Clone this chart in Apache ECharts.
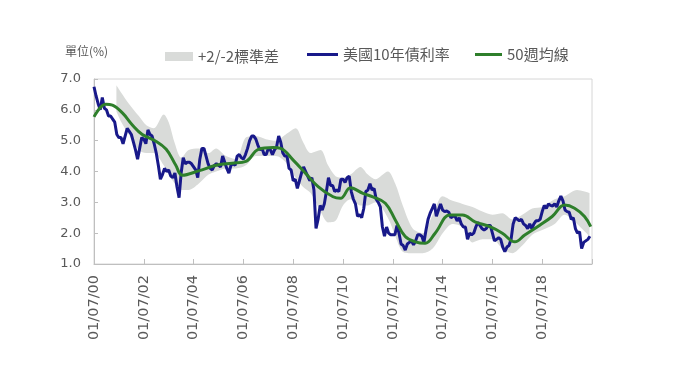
<!DOCTYPE html>
<html>
<head>
<meta charset="utf-8">
<script src="https://cdn.jsdelivr.net/npm/echarts@6/dist/echarts.min.js"></script>
<style>
html,body{margin:0;padding:0;background:#fff;}
#chart{width:680px;height:383px;}
</style>
</head>
<body>
<div id="chart"></div>
<script>
// ---- data ----
const unitLabel = '單位(%)';
const seriesNames = ['+2/-2標準差', '美國10年債利率', '50週均線'];
const xTickLabels = ['01/07/00','01/07/02','01/07/04','01/07/06','01/07/08','01/07/10','01/07/12','01/07/14','01/07/16','01/07/18'];
const yieldStartYear = 2000; // monthly values from Jan 2000
const yieldValues = [
  6.75,6.45,6.20,6.00,6.40,6.05,6.00,5.80,5.80,5.70,5.60,5.20,
  5.10,5.10,4.90,5.15,5.40,5.30,5.20,4.95,4.70,4.40,4.75,5.10,
  5.05,4.90,5.35,5.20,5.15,4.90,4.60,4.20,3.75,3.90,4.10,4.00,
  4.05,3.85,3.80,3.95,3.50,3.15,3.95,4.45,4.25,4.30,4.30,4.25,
  4.15,4.05,3.80,4.40,4.75,4.75,4.50,4.25,4.10,4.05,4.20,4.25,
  4.20,4.15,4.50,4.30,4.10,3.95,4.20,4.25,4.20,4.50,4.55,4.45,
  4.40,4.55,4.75,5.00,5.15,5.15,5.05,4.85,4.70,4.75,4.55,4.55,
  4.75,4.70,4.55,4.70,4.80,5.15,4.95,4.60,4.50,4.50,4.10,4.05,
  3.70,3.75,3.45,3.70,3.95,4.15,4.00,3.85,3.70,3.80,3.40,2.15,
  2.45,2.90,2.75,2.95,3.35,3.80,3.55,3.55,3.35,3.40,3.35,3.75,
  3.75,3.65,3.80,3.85,3.35,3.10,2.95,2.55,2.60,2.50,2.80,3.35,
  3.40,3.60,3.40,3.45,3.10,3.00,2.85,2.20,1.90,2.20,2.00,1.95,
  1.95,1.95,2.25,2.00,1.65,1.60,1.45,1.65,1.70,1.75,1.62,1.75,
  1.95,1.95,1.90,1.70,2.10,2.45,2.65,2.80,2.95,2.55,2.75,2.95,
  2.75,2.70,2.72,2.68,2.50,2.55,2.55,2.40,2.50,2.30,2.20,2.20,
  1.80,2.00,1.95,2.00,2.20,2.35,2.25,2.15,2.10,2.15,2.25,2.25,
  2.00,1.75,1.80,1.85,1.80,1.55,1.40,1.55,1.60,1.80,2.30,2.50,
  2.45,2.40,2.45,2.30,2.25,2.15,2.30,2.15,2.30,2.40,2.40,2.45,
  2.70,2.90,2.80,2.95,2.90,2.88,2.95,2.85,3.05,3.20,3.05,2.75,
  2.70,2.68,2.45,2.50,2.15,2.00,2.05,1.50,1.70,1.75,1.80,1.90
];
const maYears = [2000.0,2000.47,2000.74,2001.14,2001.54,2001.94,2002.45,2002.9,2003.28,2003.55,2004.2,2004.95,2005.55,2006.1,2006.6,2007.2,2007.5,2008.0,2008.5,2009.0,2009.6,2009.9,2010.3,2010.8,2011.2,2011.7,2012.1,2012.5,2012.9,2013.3,2013.7,2014.3,2014.8,2015.3,2015.9,2016.4,2016.9,2017.3,2017.9,2018.4,2018.9,2019.3,2019.7,2019.95];
const maValues = [5.77,6.18,6.15,5.90,5.51,5.20,5.00,4.72,4.21,3.88,4.02,4.21,4.27,4.33,4.72,4.78,4.75,4.37,3.94,3.51,3.18,3.13,3.47,3.29,3.18,2.97,2.43,1.89,1.72,1.67,2.00,2.59,2.59,2.37,2.21,2.00,1.72,1.94,2.26,2.54,2.91,2.81,2.54,2.21];
const bandYears = [2000.9,2001.1,2001.4,2001.8,2002.1,2002.4,2002.8,2003.0,2003.25,2003.5,2003.8,2004.2,2004.6,2004.9,2005.3,2005.7,2006.1,2006.5,2006.9,2007.3,2007.7,2008.1,2008.4,2008.7,2009.1,2009.4,2009.7,2010.0,2010.3,2010.7,2011.0,2011.3,2011.8,2012.1,2012.4,2012.8,2013.2,2013.6,2014.0,2014.4,2014.8,2015.2,2015.6,2016.0,2016.4,2016.8,2017.2,2017.6,2018.0,2018.5,2018.9,2019.4,2019.9];
const bandLow  = [5.95,5.60,5.20,4.70,4.60,4.60,4.20,3.90,3.60,3.40,3.40,3.60,3.90,4.00,4.10,4.10,4.20,4.50,4.50,4.50,4.30,3.80,3.50,3.30,2.70,2.35,2.40,2.90,3.10,2.90,2.90,3.00,2.50,1.90,1.40,1.35,1.35,1.50,2.00,2.30,2.20,1.70,1.80,1.80,1.50,1.35,1.60,1.95,2.10,2.30,2.60,2.30,1.90];
const bandHigh = [6.80,6.55,6.20,5.80,5.50,5.40,5.85,5.60,4.90,4.45,4.70,4.75,4.60,4.75,4.50,4.40,5.10,5.15,5.05,5.00,5.20,5.40,4.95,4.60,4.70,4.20,3.85,3.80,3.90,4.15,3.90,3.75,4.00,3.60,2.90,2.15,2.00,2.60,3.20,3.05,2.95,2.85,2.70,2.60,2.65,2.45,2.60,2.80,2.85,3.10,3.20,3.40,3.30];

// ---- build series data ----
const yieldData = yieldValues.map((v, i) => [yieldStartYear + i / 12, v]);
const maData = maYears.map((t, i) => [t, maValues[i]]);
// band pairs are [value, year] so the stacked dimension is the value (y) one
const bandLowData = bandYears.map((t, i) => [bandLow[i], t]);
const bandDiffData = bandYears.map((t, i) => [+(bandHigh[i] - bandLow[i]).toFixed(3), t]);

const textColor = '#595959';
const font = 'DejaVu Sans, Noto Sans CJK TC, sans-serif';
const cjkFont = '"Noto Sans CJK TC", sans-serif';
const blue = '#18198a';
const green = '#2e7f2b';
const bandColor = '#d9dbd9';

const legendText = {color: textColor, fontSize: 15, fontFamily: cjkFont};

const chart = echarts.init(document.getElementById('chart'), null, {renderer: 'canvas'});
chart.setOption({
  animation: false,
  backgroundColor: '#ffffff',
  textStyle: {fontFamily: font},
  graphic: [{
    type: 'text', left: 65, top: 45,
    style: {text: unitLabel, fill: textColor, font: '12px "Noto Sans CJK TC", sans-serif'}
  }],
  legend: [
    {
      top: 44, left: 160, itemWidth: 28, itemHeight: 9, itemGap: 6,
      textStyle: legendText,
      data: [{name: seriesNames[0], icon: 'rect'}]
    },
    {
      top: 44, left: 302, itemWidth: 31, itemHeight: 3, padding: [3, 5],
      textStyle: legendText,
      data: [{name: seriesNames[1], icon: 'rect'}]
    },
    {
      top: 44, left: 470, itemWidth: 27, itemHeight: 3, padding: [3, 5],
      textStyle: legendText,
      data: [{name: seriesNames[2], icon: 'rect'}]
    }
  ],
  grid: {
    left: 94, right: 88, top: 79, bottom: 119,
    show: true, borderColor: '#d6d6d6', borderWidth: 1, backgroundColor: 'transparent'
  },
  xAxis: {
    type: 'value', min: 2000, max: 2020, interval: 2,
    splitLine: {show: false},
    axisLine: {lineStyle: {color: '#bfbfbf', width: 1}},
    axisTick: {inside: true, length: 5, lineStyle: {color: '#bfbfbf'}},
    axisLabel: {
      rotate: 90, color: textColor, fontSize: 14.5, fontFamily: font, margin: 11,
      formatter: v => xTickLabels[Math.round((v - 2000) / 2)] || ''
    }
  },
  yAxis: {
    type: 'value', min: 1, max: 7, interval: 1,
    splitLine: {show: false},
    axisLine: {show: true, lineStyle: {color: '#bfbfbf', width: 1}},
    axisTick: {show: true, inside: true, length: 4, lineStyle: {color: '#bfbfbf'}},
    axisLabel: {color: textColor, fontSize: 13, fontFamily: font, margin: 13,
      formatter: v => v.toFixed(1)}
  },
  series: [
    {
      name: 'bandBase', type: 'line', stack: 'band', data: bandLowData,
      encode: {x: 1, y: 0},
      symbol: 'none', smooth: 0.3, lineStyle: {opacity: 0}, areaStyle: {opacity: 0},
      silent: true, z: 1
    },
    {
      name: seriesNames[0], type: 'line', stack: 'band', data: bandDiffData,
      encode: {x: 1, y: 0},
      symbol: 'none', smooth: 0.3, lineStyle: {opacity: 0},
      itemStyle: {color: bandColor},
      areaStyle: {color: bandColor, opacity: 1},
      silent: true, z: 1
    },
    {
      name: seriesNames[1], type: 'line', data: yieldData,
      symbol: 'none', lineStyle: {color: blue, width: 3},
      itemStyle: {color: blue}, z: 3
    },
    {
      name: seriesNames[2], type: 'line', data: maData,
      symbol: 'none', smooth: 0.4, lineStyle: {color: green, width: 3},
      itemStyle: {color: green}, z: 4
    }
  ]
});
</script>
</body>
</html>
